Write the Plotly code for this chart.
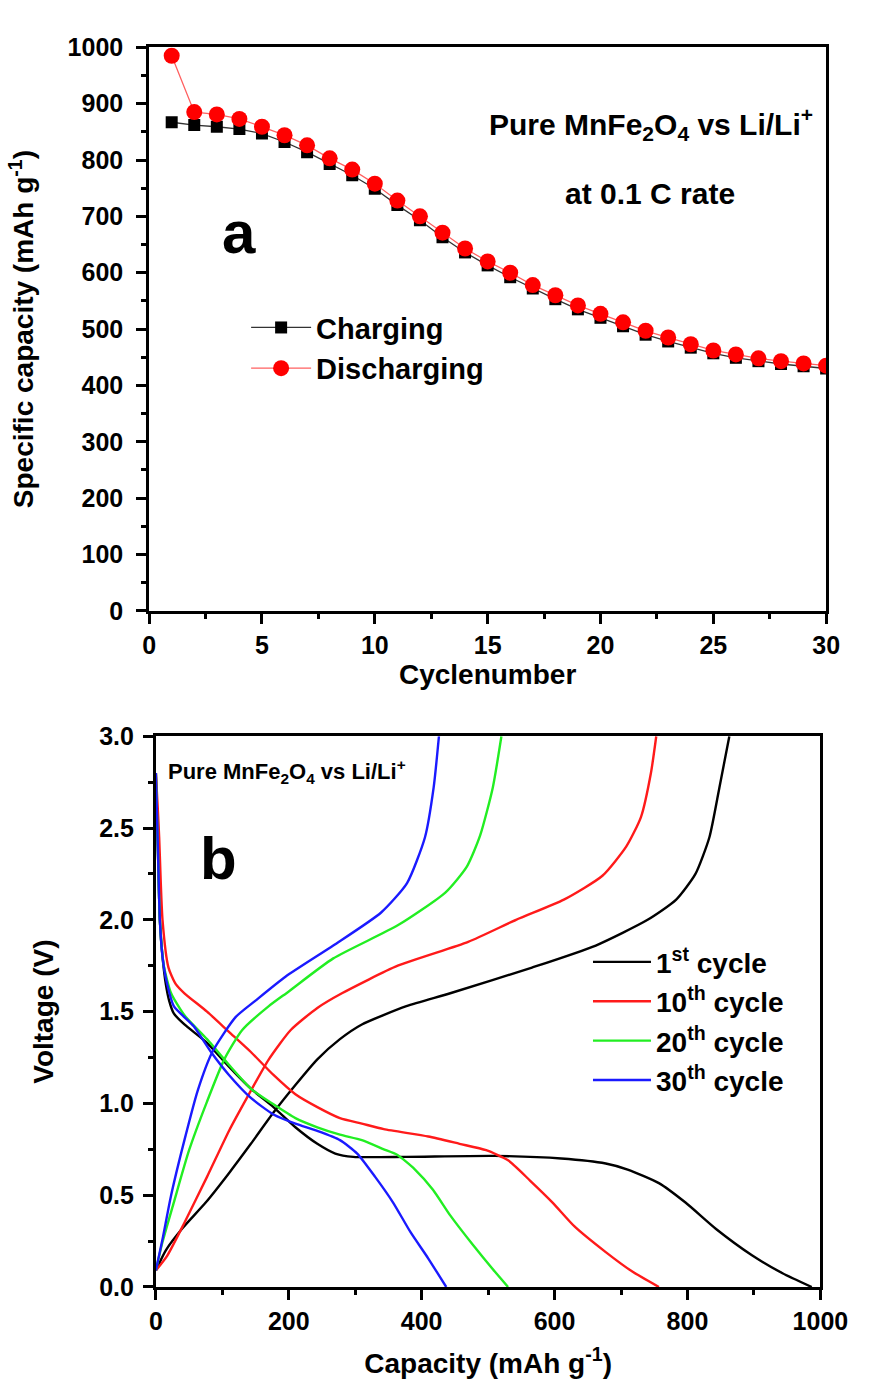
import plotly.graph_objects as go

# ---------- Panel a data ----------
cycles = list(range(1, 31))
discharge = [985, 885, 881, 873, 859, 844, 826, 803, 783, 758, 728, 700, 671, 643, 620,
             600, 578, 560, 542, 527, 512, 497, 485, 473, 462, 455, 448, 443, 439, 435]
charge = [867, 862, 859, 855, 847, 832, 814, 793, 773, 749, 720, 693, 663, 636, 613,
          592, 572, 553, 535, 520, 505, 490, 478, 467, 457, 449, 443, 438, 434, 430]

# ---------- Panel b data (capacity mAh/g, voltage V) ----------
c1_dis_x = [0, 3, 6, 10, 15, 20, 27, 43, 77, 110, 143, 177, 210, 243, 270, 297, 377, 510, 610, 677, 710, 757, 797, 843, 897, 943, 987]
c1_dis_y = [2.8, 2.4, 2.0, 1.8, 1.65, 1.56, 1.49, 1.43, 1.33, 1.2, 1.08, 0.98, 0.87, 0.78, 0.727, 0.709, 0.709, 0.714, 0.70, 0.673, 0.64, 0.566, 0.46, 0.316, 0.173, 0.075, 0.0]
c1_chg_x = [0, 15, 40, 75, 110, 143, 177, 210, 243, 277, 310, 377, 443, 566, 662, 740, 783, 812, 833, 848, 863]
c1_chg_y = [0.09, 0.2, 0.32, 0.46, 0.62, 0.78, 0.95, 1.1, 1.24, 1.35, 1.43, 1.53, 1.60, 1.74, 1.86, 2.0, 2.11, 2.25, 2.45, 2.72, 3.0]

c10_dis_x = [0, 3, 5, 10, 19, 30, 43, 77, 110, 143, 177, 210, 243, 277, 310, 343, 410, 457, 497, 530, 563, 597, 630, 677, 717, 757]
c10_dis_y = [2.8, 2.6, 2.45, 2.0, 1.74, 1.65, 1.6, 1.5, 1.39, 1.28, 1.155, 1.05, 0.98, 0.92, 0.89, 0.86, 0.82, 0.78, 0.745, 0.69, 0.58, 0.46, 0.33, 0.19, 0.084, 0.0]
c10_chg_x = [0, 17, 43, 77, 110, 137, 170, 203, 243, 280, 364, 470, 542, 614, 672, 708, 730, 745, 753]
c10_chg_y = [0.09, 0.17, 0.35, 0.60, 0.85, 1.03, 1.24, 1.40, 1.52, 1.60, 1.75, 1.88, 2.0, 2.11, 2.24, 2.40, 2.56, 2.8, 3.0]

c20_dis_x = [0, 3, 6, 12, 23, 43, 77, 110, 143, 177, 210, 243, 277, 310, 343, 363, 390, 417, 443, 477, 510, 530]
c20_dis_y = [2.8, 2.4, 2.0, 1.75, 1.6, 1.48, 1.35, 1.21, 1.08, 0.995, 0.92, 0.87, 0.83, 0.80, 0.75, 0.72, 0.64, 0.53, 0.39, 0.23, 0.084, 0.0]
c20_chg_x = [0, 10, 27, 50, 77, 103, 130, 170, 200, 267, 364, 436, 468, 488, 507, 520]
c20_chg_y = [0.09, 0.245, 0.46, 0.745, 1.01, 1.24, 1.40, 1.53, 1.61, 1.79, 1.97, 2.15, 2.29, 2.46, 2.72, 3.0]

c30_dis_x = [0, 3, 6, 10, 17, 27, 57, 83, 110, 143, 177, 210, 243, 277, 303, 330, 357, 383, 410, 437]
c30_dis_y = [2.8, 2.4, 2.0, 1.8, 1.65, 1.53, 1.42, 1.28, 1.155, 1.03, 0.94, 0.89, 0.85, 0.80, 0.727, 0.60, 0.46, 0.30, 0.155, 0.0]
c30_chg_x = [0, 10, 23, 43, 63, 85, 120, 150, 195, 267, 339, 378, 405, 418, 426]
c30_chg_y = [0.09, 0.26, 0.5, 0.8, 1.07, 1.28, 1.47, 1.56, 1.69, 1.86, 2.04, 2.2, 2.45, 2.72, 3.0]

cycle_names = ["1<sup>st</sup> cycle", "10<sup>th</sup> cycle", "20<sup>th</sup> cycle", "30<sup>th</sup> cycle"]
cycle_colors = ["#000000", "#ff1a1a", "#22ee22", "#1a1aff"]

FONT = "Liberation Sans, Arial, sans-serif"
W, H = 882, 1399

def px(x):
    return x / W

def py(y):
    return 1 - y / H

fig = go.Figure()

# Panel a traces
fig.add_trace(go.Scatter(x=cycles, y=charge, mode="lines+markers", name="Charging",
                         line=dict(color="#333333", width=1.3),
                         marker=dict(symbol="square", size=12, color="black"),
                         xaxis="x", yaxis="y", legend="legend"))
fig.add_trace(go.Scatter(x=cycles, y=discharge, mode="lines+markers", name="Discharging",
                         line=dict(color="#ff6060", width=1.3),
                         marker=dict(symbol="circle", size=16, color="#ff0000"),
                         xaxis="x", yaxis="y", legend="legend"))

# Panel b traces
pairs = [(c1_dis_x, c1_dis_y, c1_chg_x, c1_chg_y),
         (c10_dis_x, c10_dis_y, c10_chg_x, c10_chg_y),
         (c20_dis_x, c20_dis_y, c20_chg_x, c20_chg_y),
         (c30_dis_x, c30_dis_y, c30_chg_x, c30_chg_y)]
for i, (dx, dy, cx, cy) in enumerate(pairs):
    fig.add_trace(go.Scatter(x=dx, y=dy, mode="lines", name=cycle_names[i],
                             line=dict(color=cycle_colors[i], width=2.4, shape="spline", smoothing=0.6),
                             xaxis="x2", yaxis="y2", legend="legend2", legendgroup=str(i)))
    fig.add_trace(go.Scatter(x=cx, y=cy, mode="lines", name=cycle_names[i], showlegend=False,
                             line=dict(color=cycle_colors[i], width=2.4, shape="spline", smoothing=0.6),
                             xaxis="x2", yaxis="y2", legendgroup=str(i)))

def tf(size):
    return dict(family=FONT, size=size, color="black", weight="bold")

axis_common = dict(showline=True, linewidth=2.8, linecolor="black", mirror=True,
                   ticks="outside", ticklen=10, tickwidth=2.5, tickcolor="black",
                   showgrid=False, zeroline=False)
minor_common = dict(ticks="outside", ticklen=5, tickwidth=2.5, tickcolor="black")

fig.update_layout(
    width=W, height=H,
    margin=dict(l=0, r=0, t=0, b=0),
    paper_bgcolor="white", plot_bgcolor="white",
    xaxis=dict(domain=[px(148), px(853)], range=[0, 30], dtick=5, anchor="y",
               minor=dict(dtick=2.5, **minor_common), tickfont=tf(25),
               title=dict(text="Cyclenumber", font=tf(28), standoff=4), **axis_common),
    yaxis=dict(domain=[py(609), py(34)], range=[0, 1000], dtick=100, anchor="x",
               minor=dict(dtick=50, **minor_common), tickfont=tf(25), ticklabelstandoff=8,
               title=dict(text="Specific capacity (mAh g<sup>-1</sup>)", font=tf(28), standoff=26), **axis_common),
    xaxis2=dict(domain=[px(155), px(847)], range=[0, 1000], dtick=200, anchor="y2",
                minor=dict(dtick=100, **minor_common), tickfont=tf(25),
                title=dict(text="Capacity (mAh g<sup>-1</sup>)", font=tf(28), standoff=20), **axis_common),
    yaxis2=dict(domain=[py(1299), py(737)], range=[0, 3], dtick=0.5, tickformat=".1f", anchor="x2",
                minor=dict(dtick=0.25, **minor_common), tickfont=tf(25), ticklabelstandoff=4,
                title=dict(text="Voltage (V)", font=tf(28), standoff=38), **axis_common),
    legend=dict(x=px(249), y=py(294), xanchor="left", yanchor="top",
                font=tf(29), bgcolor="rgba(0,0,0,0)", itemwidth=60),
    legend2=dict(x=px(605), y=py(942), xanchor="left", yanchor="top",
                 font=tf(28), bgcolor="rgba(0,0,0,0)", itemwidth=58, tracegroupgap=0,
                 traceorder="grouped"),
    showlegend=True,
)

annos = [
    dict(text="Pure MnFe<sub>2</sub>O<sub>4</sub> vs Li/Li<sup>+</sup>", x=px(671), y=py(112), font=tf(30)),
    dict(text="at 0.1 C rate", x=px(670), y=py(183), font=tf(30)),
    dict(text="a", x=px(242), y=py(223), font=tf(60)),
    dict(text="Pure MnFe<sub>2</sub>O<sub>4</sub> vs Li/Li<sup>+</sup>", x=px(166), y=py(773),
         xanchor="left", font=tf(22)),
    dict(text="b", x=px(220), y=py(862), font=tf(60)),
]
for a in annos:
    a.setdefault("xanchor", "center")
    fig.add_annotation(xref="paper", yref="paper", showarrow=False, yanchor="middle", **a)

fig.write_html("out.html")
